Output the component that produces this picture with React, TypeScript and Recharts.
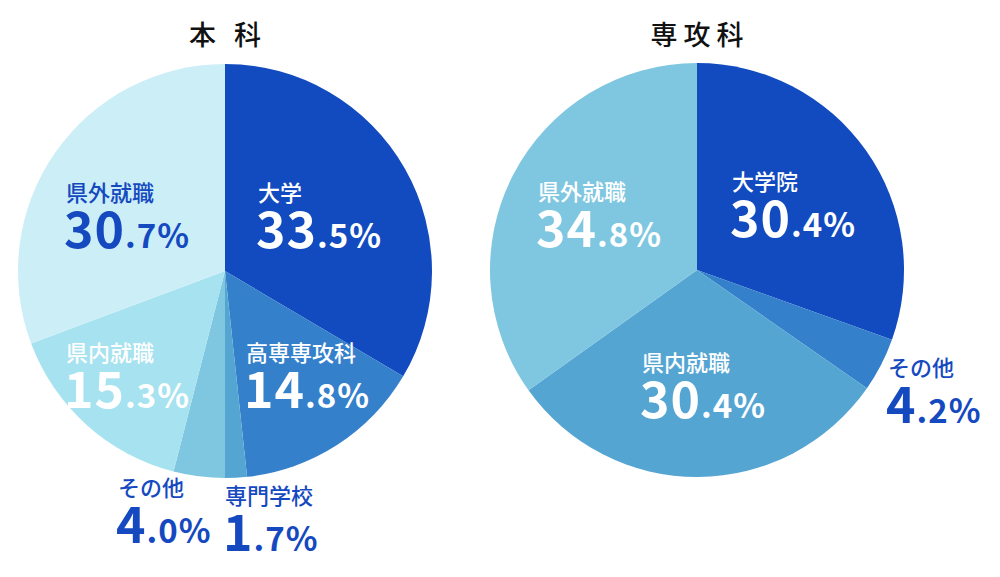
import React from "react";
import { PieChart, Pie, Cell } from "recharts";

const FONT = "'Noto Sans CJK JP', 'Noto Sans', sans-serif";

const COLORS = ["#124BBF", "#3580CB", "#55A5D3", "#7FC7E1", "#A6E2EF", "#CCEEF7"];
const LABEL_BLUE = "#1549C0";

// 本科
const mainNames = ["大学", "高専専攻科", "専門学校", "その他", "県内就職", "県外就職"];
const mainValues = [33.5, 14.8, 1.7, 4.0, 15.3, 30.7];
const mainColors = [COLORS[0], COLORS[1], COLORS[2], COLORS[3], COLORS[4], COLORS[5]];
const mainTextColors = ["#fff", "#fff", LABEL_BLUE, LABEL_BLUE, "#fff", LABEL_BLUE];
// label anchor offsets from pie centre (name baseline)
const mainLabelPos = [
  [33, -70],
  [21, 90],
  [0, 233],
  [-107, 225],
  [-159, 90],
  [-159, -70],
];

// 専攻科
const advNames = ["大学院", "その他", "県内就職", "県外就職"];
const advValues = [30.4, 4.2, 30.4, 34.8];
const advColors = [COLORS[0], COLORS[1], COLORS[2], COLORS[3]];
const advTextColors = ["#fff", LABEL_BLUE, "#fff", "#fff"];
const advLabelPos = [
  [35, -80],
  [191, 106],
  [-55, 101],
  [-159, -70],
];

const mainData = mainNames.map((name, i) => ({ name, value: mainValues[i] }));
const advData = advNames.map((name, i) => ({ name, value: advValues[i] }));

const makeLabel = (names: string[], values: number[], pos: number[][], textColors: string[]) =>
  (props: any) => {
    const { cx, cy, index } = props;
    const [dx, dy] = pos[index];
    const x = cx + dx;
    const y = cy + dy;
    const str = values[index].toFixed(1);
    const [intPart, decPart] = str.split(".");
    const fill = textColors[index];
    return (
      <g key={`lbl-${index}`}>
        <text x={x} y={y} fill={fill} fontFamily={FONT} fontSize={22} fontWeight={500}>
          {names[index]}
        </text>
        <text x={x - 2} y={y + 47} fill={fill} fontFamily={FONT} fontWeight={700} letterSpacing={1}>
          <tspan fontSize={50}>{intPart}</tspan>
          <tspan fontSize={33}>{"." + decPart + "%"}</tspan>
        </text>
      </g>
    );
  };

const titleStyle: React.CSSProperties = {
  position: "absolute",
  top: 14,
  width: 300,
  textAlign: "center",
  fontFamily: FONT,
  fontSize: 27,
  fontWeight: 500,
  color: "#111",
};

export default function App() {
  return (
    <div style={{ position: "absolute", left: 0, top: 0, width: 1000, height: 577, background: "#fff" }}>
      <div style={{ ...titleStyle, left: 75, letterSpacing: 18, textIndent: 18 }}>本科</div>
      <div style={{ ...titleStyle, left: 547, letterSpacing: 6, textIndent: 6 }}>専攻科</div>
      <PieChart width={1000} height={577} margin={{ top: 0, right: 0, bottom: 0, left: 0 }}>
        <Pie
          data={mainData}
          dataKey="value"
          nameKey="name"
          cx={225}
          cy={271}
          outerRadius={207}
          startAngle={90}
          endAngle={-270}
          stroke="none"
          labelLine={false}
          label={makeLabel(mainNames, mainValues, mainLabelPos, mainTextColors)}
          isAnimationActive={false}
        >
          {mainData.map((_, i) => (
            <Cell key={i} fill={mainColors[i]} />
          ))}
        </Pie>
        <Pie
          data={advData}
          dataKey="value"
          nameKey="name"
          cx={697}
          cy={270}
          outerRadius={207}
          startAngle={90}
          endAngle={-270}
          stroke="none"
          labelLine={false}
          label={makeLabel(advNames, advValues, advLabelPos, advTextColors)}
          isAnimationActive={false}
        >
          {advData.map((_, i) => (
            <Cell key={i} fill={advColors[i]} />
          ))}
        </Pie>
      </PieChart>
    </div>
  );
}
